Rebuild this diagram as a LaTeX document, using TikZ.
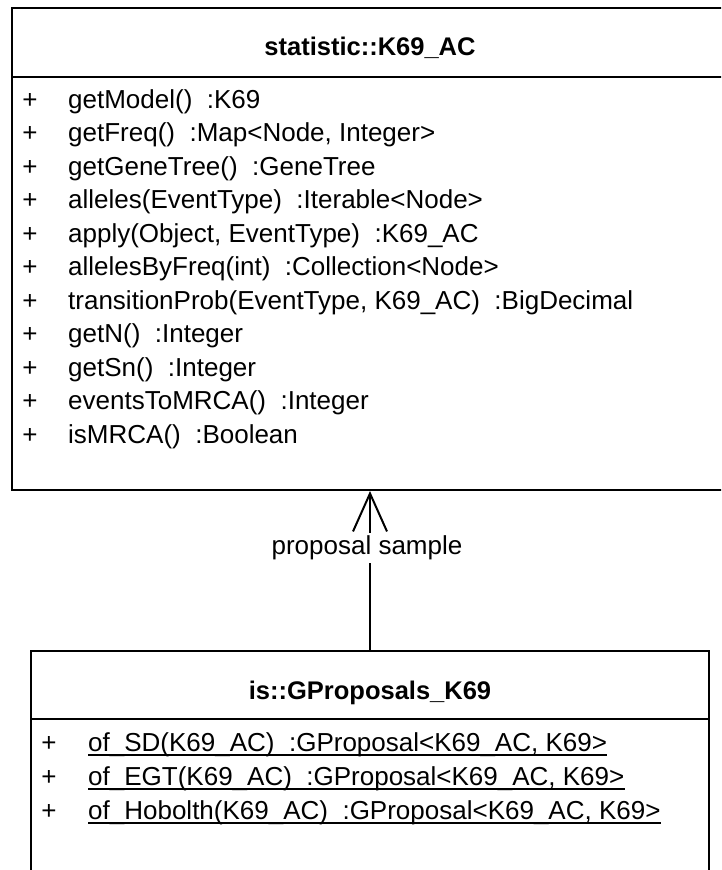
\documentclass[tikz,border=0pt]{standalone}
\usepackage{fontspec}
\setmainfont{Liberation Sans}
\usetikzlibrary{arrows.meta}
% two-space gap between a signature and its return type
\newcommand\tsep{\hspace{0.556em}}
\begin{document}
\begin{tikzpicture}[x=1pt,y=-1pt,
  umlfont/.style={font=\fontsize{26}{30}\selectfont},
  classbox/.style={draw=black, line width=2pt, rectangle, inner sep=0pt, anchor=north west},
  divider/.style={line width=2pt},
  classtitle/.style={anchor=base, inner sep=0pt, font=\fontsize{25.5}{30}\selectfont\bfseries},
  vis/.style={umlfont, anchor=base, inner sep=0pt},
  member/.style={umlfont, anchor=base west, inner sep=0pt},
  ulined/.style={line width=1.6pt},
  assoc/.style={line width=2pt, -{Straight Barb[length=38pt,width=34pt,line width=2pt]}},
  assoclabel/.style={umlfont, fill=white, inner xsep=2pt, inner ysep=3pt}]
\useasboundingbox (0,0) rectangle (721,870);
\clip (0,0) rectangle (721,870);
\fill[white] (0,0) rectangle (721,870);

% class statistic::K69_AC (runs past the right edge)
\node[classbox, minimum width=718pt, minimum height=482pt] (stat) at (11,7) {};
\node[classtitle] (stattitle) at (370,55) {statistic::K69\_AC};
\draw[divider] (stat.west |- 0,77) -- (stat.east |- 0,77);
\foreach \t [count=\i from 0] in {
  {getModel()\tsep:K69},
  {getFreq()\tsep:Map<Node, Integer>},
  {getGeneTree()\tsep:GeneTree},
  {alleles(EventType)\tsep:Iterable<Node>},
  {apply(Object, EventType)\tsep:K69\_AC},
  {allelesByFreq(int)\tsep:Collection<Node>},
  {transitionProb(EventType, K69\_AC)\tsep:BigDecimal},
  {getN()\tsep:Integer},
  {getSn()\tsep:Integer},
  {eventsToMRCA()\tsep:Integer},
  {isMRCA()\tsep:Boolean}} {
  \node[vis] (sv\i) at (30,108+33.5*\i) {+};
  \node[member] (sm\i) at (68,108+33.5*\i) {\t};
}

% class is::GProposals_K69 (runs past the bottom edge)
\node[classbox, minimum width=678pt, minimum height=260pt] (gp) at (30,650) {};
\node[classtitle] (gptitle) at (370,699) {is::GProposals\_K69};
\draw[divider] (gp.west |- 0,719) -- (gp.east |- 0,719);
\foreach \t [count=\i from 0] in {
  {of\_SD(K69\_AC)\tsep:GProposal<K69\_AC, K69>},
  {of\_EGT(K69\_AC)\tsep:GProposal<K69\_AC, K69>},
  {of\_Hobolth(K69\_AC)\tsep:GProposal<K69\_AC, K69>}} {
  \node[vis] (gv\i) at (49,751+34*\i) {+};
  \node[member] (gm\i) at (88,751+34*\i) {\t};
  \draw[ulined] ([yshift=-4pt]gm\i.base west) -- ([yshift=-4pt]gm\i.base east);
}

% navigable association
\draw[assoc] (gp.north) -- node[assoclabel, pos=0.64, xshift=-3pt] (lbl) {proposal sample} (stat.south -| gp.north);
\end{tikzpicture}
\end{document}
